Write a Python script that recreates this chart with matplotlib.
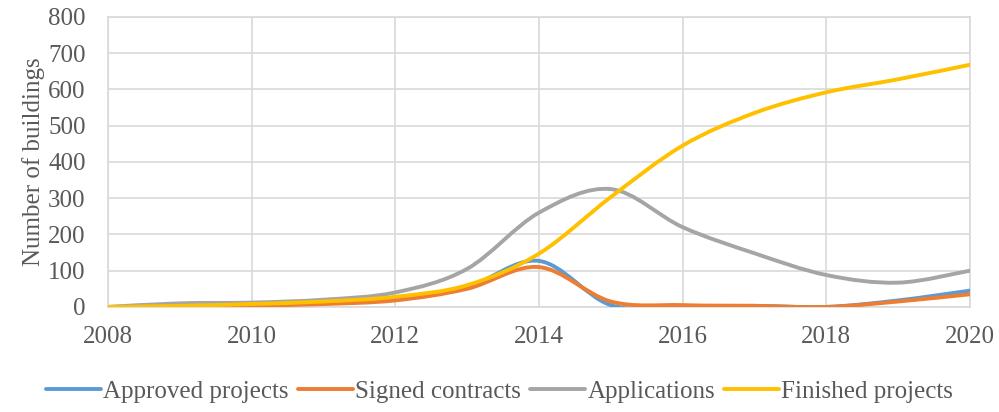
import numpy as np
import matplotlib
matplotlib.use("Agg")
import matplotlib.pyplot as plt
from matplotlib.path import Path
from matplotlib.patches import PathPatch
from matplotlib.lines import Line2D

plt.rcParams['font.family'] = ['Liberation Serif', 'DejaVu Serif']

years = [2008, 2009, 2010, 2011, 2012, 2013, 2014, 2015, 2016, 2017, 2018, 2019, 2020]
approved = [0, 2, 5, 10, 22, 55, 127, 5, 2, 3, 0, 18, 45]
signed = [0, 1, 4, 8, 18, 50, 110, 15, 5, 3, 0, 15, 35]
applications = [0, 10, 12, 20, 40, 105, 260, 325, 220, 148, 88, 67, 100]
finished = [0, 3, 8, 15, 28, 60, 147, 303, 445, 535, 592, 628, 668]

names = ['Approved projects', 'Signed contracts', 'Applications', 'Finished projects']
colors = ['#5B9BD5', '#ED7D31', '#A5A5A5', '#FFC000']
series = [approved, signed, applications, finished]


def smooth_path(x, y):
    # excel-like smoothed line as cubic bezier segments
    p = np.column_stack([x, y]).astype(float)
    n = len(p)
    verts = [p[0]]
    codes = [Path.MOVETO]
    for i in range(n - 1):
        p0 = p[i - 1] if i > 0 else p[i]
        p3 = p[i + 2] if i + 2 < n else p[i + 1]
        c1 = p[i] + (p[i + 1] - p0) / 6
        c2 = p[i + 1] - (p3 - p[i]) / 6
        verts += [c1, c2, p[i + 1]]
        codes += [Path.CURVE4] * 3
    return Path(verts, codes)


fig = plt.figure(figsize=(9.99, 4.12), dpi=100)
ax = fig.add_axes([0.108, 0.255, 0.863, 0.704])

for vals, c in zip(series, colors):
    ax.add_patch(PathPatch(smooth_path(years, vals), fill=False, edgecolor=c,
                           lw=2.8, capstyle='round', joinstyle='round', zorder=3))

ax.set_xlim(2008, 2020)
ax.set_ylim(0, 800)
ax.set_xticks(range(2008, 2021, 2))
ax.set_yticks(range(0, 801, 100))
ax.grid(True, color='#D9D9D9', lw=1.2)
ax.set_axisbelow(True)
for s in ax.spines.values():
    s.set_color('#D9D9D9')
    s.set_linewidth(1.2)
ax.tick_params(length=0, labelsize=18, labelcolor='#595959')
ax.tick_params(axis='x', pad=14)
ax.tick_params(axis='y', pad=16)
ax.set_ylabel('Number of buildings', fontsize=18, color='#595959', labelpad=2)

handles = [Line2D([], [], color=c, lw=2.8, solid_capstyle='round') for c in colors]
fig.legend(handles, names, loc='center', bbox_to_anchor=(0.5, 0.05), ncol=4,
           frameon=False, fontsize=18, labelcolor='#595959', handlelength=2.2,
           handletextpad=0.1, columnspacing=0.35)

fig.savefig('out.png', dpi=100)
